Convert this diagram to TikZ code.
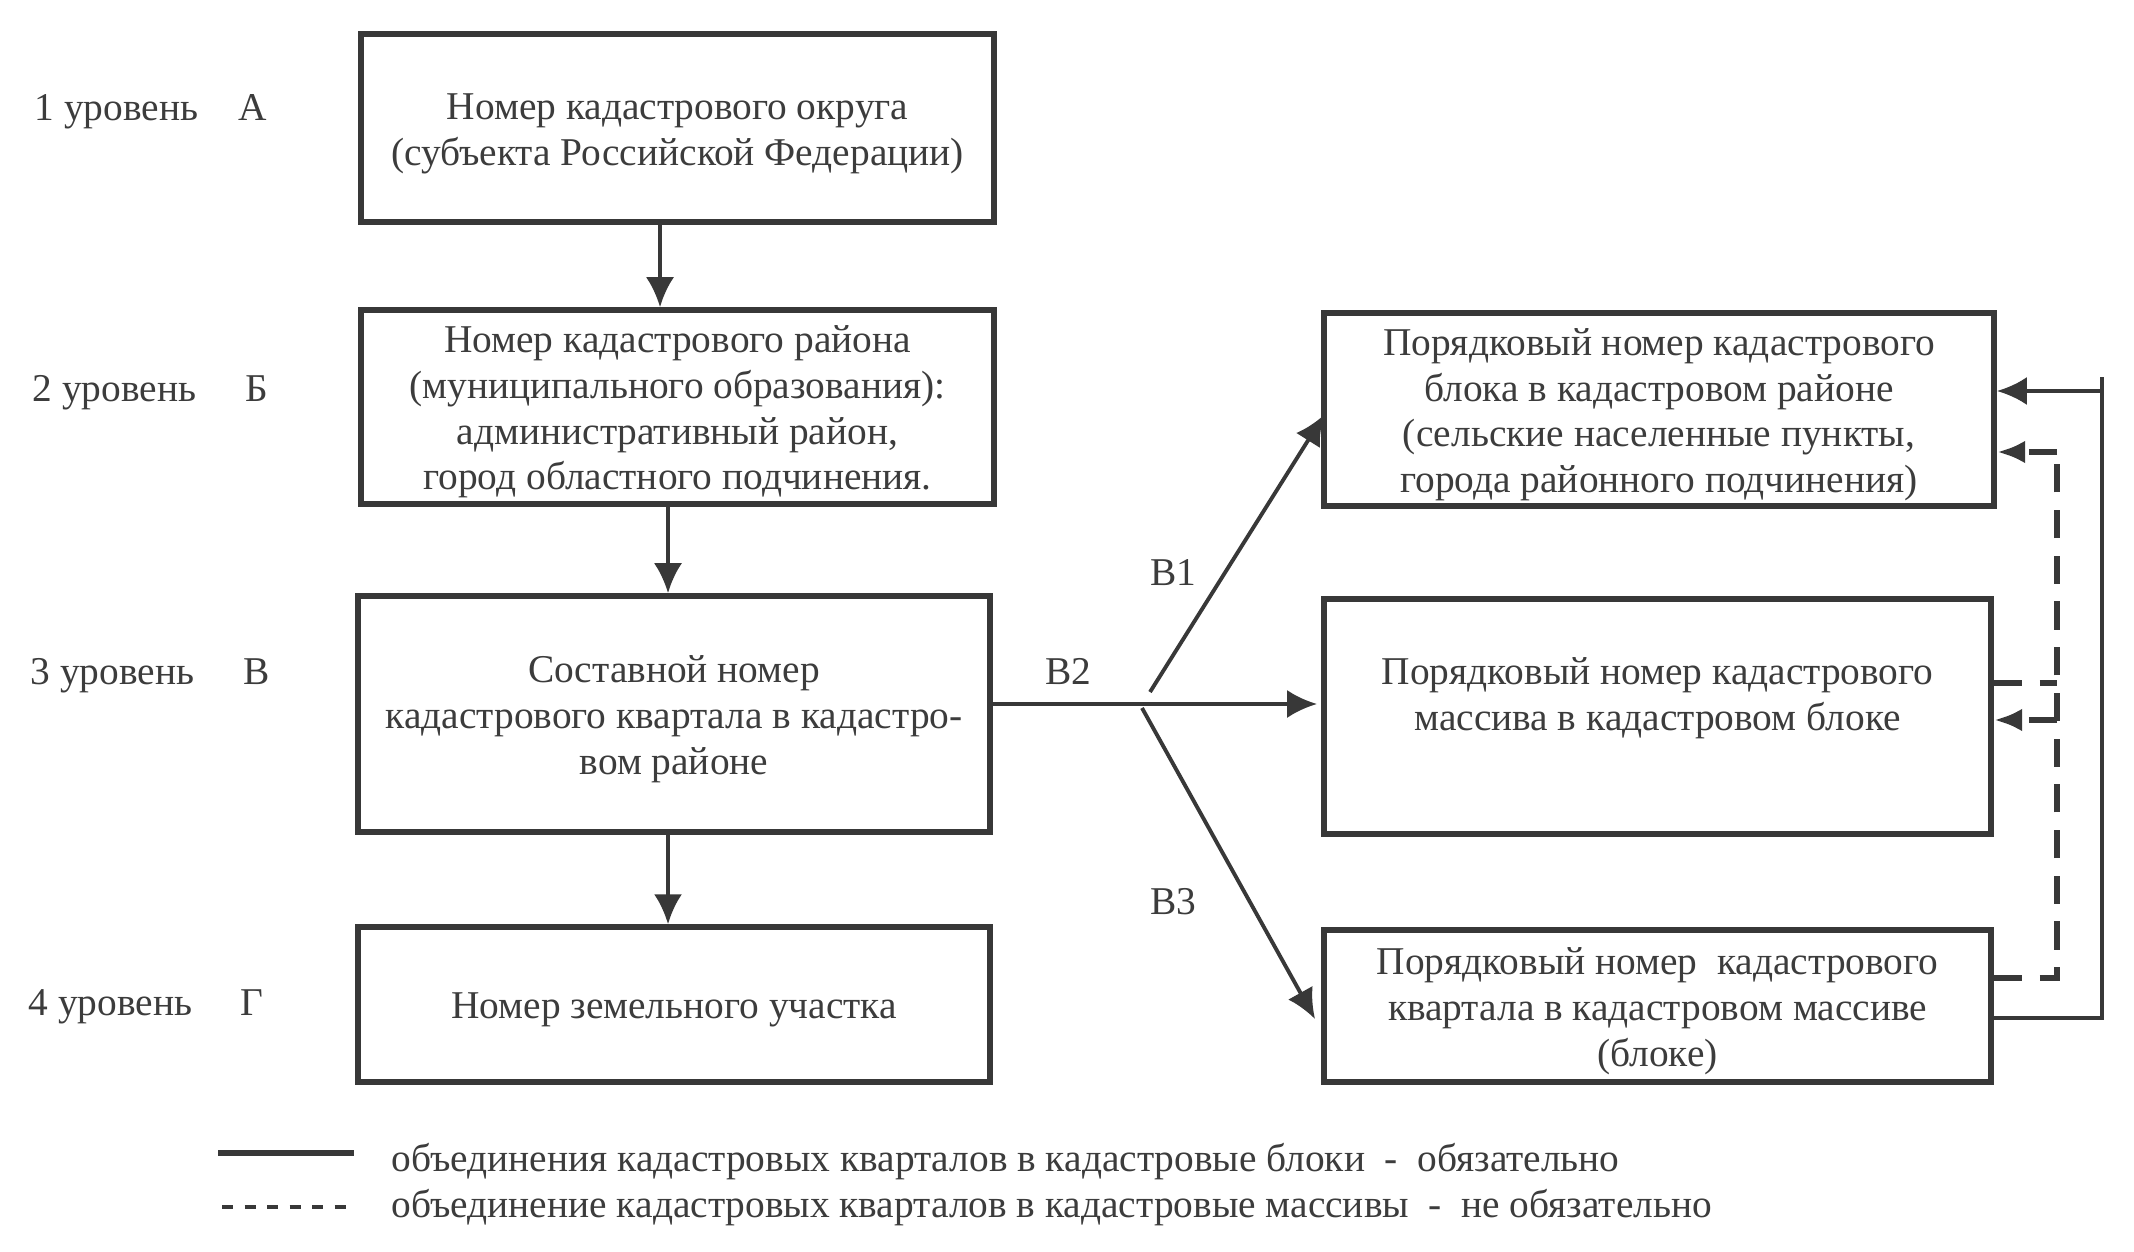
\documentclass[tikz,border=0pt]{standalone}
\usepackage{fontspec}
\setmainfont{Liberation Serif}
\usetikzlibrary{arrows.meta}
\definecolor{ink}{HTML}{383838}
\definecolor{txt}{HTML}{3C3C3C}
\newcommand{\bxtext}[1]{\raisebox{-1.5pt}[\height][\depth]{\begin{tabular}{@{}c@{}}#1\end{tabular}}}
\begin{document}
\begin{tikzpicture}[x=0.01cm, y=-0.01cm,
  every node/.style={text=txt, font=\fontsize{11.2pt}{13pt}\selectfont},
  box/.style={draw=ink, line width=1.6pt, inner sep=0pt, align=center},
  txtnode/.style={inner sep=0pt, align=center},
  lvl/.style={inner sep=0pt, anchor=base west},
  lett/.style={inner sep=0pt, anchor=base},
  arr/.style={draw=ink, line width=1.1pt, -{Latex[length=8.5pt,width=8pt]}},
  solidl/.style={draw=ink, line width=1.1pt},
  dsh/.style={draw=ink, line width=1.6pt, dash pattern=on 8pt off 5pt},
  dsharr/.style={draw=ink, line width=1.6pt, dash pattern=on 8pt off 5pt, -{Latex[length=8pt,width=6.5pt]}},
  legdsh/.style={draw=ink, line width=1.1pt, dash pattern=on 3.2pt off 3.2pt}
]
\fill[white] (0,0) rectangle (2134,1252);
\useasboundingbox (0,0) rectangle (2134,1252);

% left column boxes
\node[box, minimum width=6.33cm, minimum height=1.88cm] (A) at (677.5,128)
  {\bxtext{Номер кадастрового округа\\(субъекта Российской Федерации)}};
\node[box, minimum width=6.33cm, minimum height=1.94cm] (B) at (677.5,407)
  {\bxtext{Номер кадастрового района\\(муниципального образования):\\административный район,\\город областного подчинения.}};
\node[box, minimum width=6.32cm, minimum height=2.36cm] (C) at (674,714)
  {\bxtext{Составной номер\\кадастрового квартала в кадастро-\\вом районе}};
\node[box, minimum width=6.32cm, minimum height=1.55cm] (D) at (674,1004.5)
  {\bxtext{Номер земельного участка}};

% right column boxes
\node[box, minimum width=6.70cm, minimum height=1.93cm] (R1) at (1659,409.5)
  {\bxtext{Порядковый номер кадастрового\\блока в кадастровом районе\\(сельские населенные пункты,\\города районного подчинения)}};
\node[box, minimum width=6.67cm, minimum height=2.35cm] (R2) at (1657.5,716.5) {};
\node[txtnode] (R2t) at (1657.5,693)
  {\bxtext{Порядковый номер кадастрового\\массива в кадастровом блоке}};
\node[box, minimum width=6.67cm, minimum height=1.52cm] (R3) at (1657.5,1006)
  {\bxtext{Порядковый номер\ \ кадастрового\\квартала в кадастровом массиве\\(блоке)}};

% level labels
\node[lvl] (l1) at (34,121) {1 уровень};
\node[lvl] (l2) at (32,401) {2 уровень};
\node[lvl] (l3) at (30,684) {3 уровень};
\node[lvl] (l4) at (28,1015) {4 уровень};
\node[lett] (la) at (253,121) {А};
\node[lett] (lb) at (257,401) {Б};
\node[lett] (lc) at (257,684) {В};
\node[lett] (ld) at (252,1015) {Г};

% branch labels
\node[txtnode] (v1) at (1173,573) {В1};
\node[txtnode] (v2) at (1068,672) {В2};
\node[txtnode] (v3) at (1173,902) {В3};

% vertical arrows
\coordinate (xa) at (660,0);
\coordinate (xb) at (668,0);
\draw[arr] (A.south -| xa) -- (B.north -| xa);
\draw[arr] (B.south -| xb) -- (C.north -| xb);
\draw[arr] (C.south -| xb) -- (D.north -| xb);

% branching
\coordinate (br) at (1150,704);
\coordinate (b1s) at (1150,692);
\coordinate (b1e) at (1324,415);
\coordinate (b2e) at (1317,704);
\coordinate (b3s) at (1142,708);
\coordinate (b3e) at (1315,1019);
\draw[solidl] (C.east |- br) -- (br);
\draw[arr] (br) -- (b2e);
\draw[arr] (b1s) -- (b1e);
\draw[arr] (b3s) -- (b3e);

% right feedback solid
\coordinate (s1) at (2102,1018);
\coordinate (s2) at (2102,391);
\coordinate (s0) at (2102,377);
\draw[solidl] (R3.east |- s1) -- (s1) -- (s0);
\draw[arr] (s2) -- (R1.east |- s2);

% right feedback dashed
\coordinate (d1) at (2057,978);
\coordinate (d2) at (2057,452);
\coordinate (d3) at (2057,683);
\coordinate (d4) at (2057,720);
\draw[dsh] (R3.east |- d1) -- (d1) -- (d2);
\draw[dsharr] (d2) -- (R1.east |- d2);
\draw[dsh] (R2.east |- d3) -- (d3);
\draw[dsharr] (d4) -- (R2.east |- d4);

% legend
\coordinate (g1) at (218,1153);
\coordinate (g2) at (354,1153);
\coordinate (g3) at (222,1207);
\coordinate (g4) at (346,1207);
\draw[draw=ink, line width=1.6pt] (g1) -- (g2);
\draw[legdsh] (g3) -- (g4);
\node[lvl] (t1) at (391,1171) {объединения кадастровых кварталов в кадастровые блоки\ \ -\ \ обязательно};
\node[lvl] (t2) at (391,1217) {объединение кадастровых кварталов в кадастровые массивы\ \ -\ \ не обязательно};
\end{tikzpicture}
\end{document}
